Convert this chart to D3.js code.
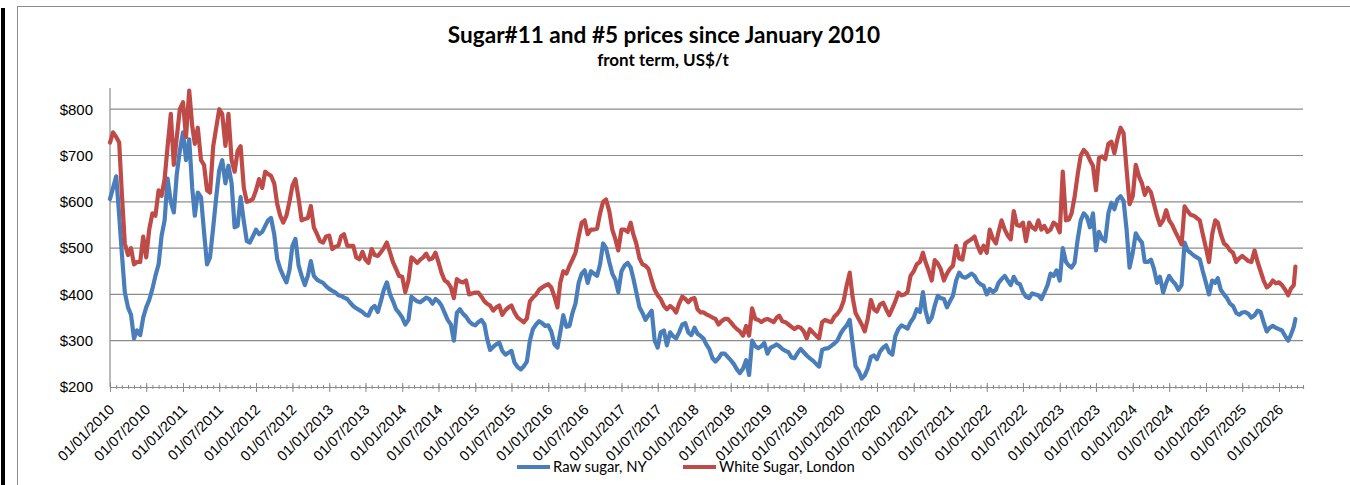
<!DOCTYPE html>
<html>
<head>
<meta charset="utf-8">
<script src="https://cdnjs.cloudflare.com/ajax/libs/d3/7.8.5/d3.min.js"></script>
<style>
  body { margin: 0; background: #fff; }
  svg { display: block; font-family: Lato, "Open Sans", sans-serif; }
</style>
</head>
<body>
<svg id="chart" width="1350" height="485"></svg>
<script>
// sample dates (1st and 16th of each month)
var dates = [
  "2010-01-01","2010-01-16","2010-02-01","2010-02-16","2010-03-01","2010-03-16","2010-04-01","2010-04-16","2010-05-01","2010-05-16","2010-06-01","2010-06-16","2010-07-01","2010-07-16","2010-08-01","2010-08-16","2010-09-01","2010-09-16","2010-10-01","2010-10-16","2010-11-01","2010-11-16","2010-12-01","2010-12-16",
  "2011-01-01","2011-01-16","2011-02-01","2011-02-16","2011-03-01","2011-03-16","2011-04-01","2011-04-16","2011-05-01","2011-05-16","2011-06-01","2011-06-16","2011-07-01","2011-07-16","2011-08-01","2011-08-16","2011-09-01","2011-09-16","2011-10-01","2011-10-16","2011-11-01","2011-11-16","2011-12-01","2011-12-16",
  "2012-01-01","2012-01-16","2012-02-01","2012-02-16","2012-03-01","2012-03-16","2012-04-01","2012-04-16","2012-05-01","2012-05-16","2012-06-01","2012-06-16","2012-07-01","2012-07-16","2012-08-01","2012-08-16","2012-09-01","2012-09-16","2012-10-01","2012-10-16","2012-11-01","2012-11-16","2012-12-01","2012-12-16",
  "2013-01-01","2013-01-16","2013-02-01","2013-02-16","2013-03-01","2013-03-16","2013-04-01","2013-04-16","2013-05-01","2013-05-16","2013-06-01","2013-06-16","2013-07-01","2013-07-16","2013-08-01","2013-08-16","2013-09-01","2013-09-16","2013-10-01","2013-10-16","2013-11-01","2013-11-16","2013-12-01","2013-12-16",
  "2014-01-01","2014-01-16","2014-02-01","2014-02-16","2014-03-01","2014-03-16","2014-04-01","2014-04-16","2014-05-01","2014-05-16","2014-06-01","2014-06-16","2014-07-01","2014-07-16","2014-08-01","2014-08-16","2014-09-01","2014-09-16","2014-10-01","2014-10-16","2014-11-01","2014-11-16","2014-12-01","2014-12-16",
  "2015-01-01","2015-01-16","2015-02-01","2015-02-16","2015-03-01","2015-03-16","2015-04-01","2015-04-16","2015-05-01","2015-05-16","2015-06-01","2015-06-16","2015-07-01","2015-07-16","2015-08-01","2015-08-16","2015-09-01","2015-09-16","2015-10-01","2015-10-16","2015-11-01","2015-11-16","2015-12-01","2015-12-16",
  "2016-01-01","2016-01-16","2016-02-01","2016-02-16","2016-03-01","2016-03-16","2016-04-01","2016-04-16","2016-05-01","2016-05-16","2016-06-01","2016-06-16","2016-07-01","2016-07-16","2016-08-01","2016-08-16","2016-09-01","2016-09-16","2016-10-01","2016-10-16","2016-11-01","2016-11-16","2016-12-01","2016-12-16",
  "2017-01-01","2017-01-16","2017-02-01","2017-02-16","2017-03-01","2017-03-16","2017-04-01","2017-04-16","2017-05-01","2017-05-16","2017-06-01","2017-06-16","2017-07-01","2017-07-16","2017-08-01","2017-08-16","2017-09-01","2017-09-16","2017-10-01","2017-10-16","2017-11-01","2017-11-16","2017-12-01","2017-12-16",
  "2018-01-01","2018-01-16","2018-02-01","2018-02-16","2018-03-01","2018-03-16","2018-04-01","2018-04-16","2018-05-01","2018-05-16","2018-06-01","2018-06-16","2018-07-01","2018-07-16","2018-08-01","2018-08-16","2018-09-01","2018-09-16","2018-10-01","2018-10-16","2018-11-01","2018-11-16","2018-12-01","2018-12-16",
  "2019-01-01","2019-01-16","2019-02-01","2019-02-16","2019-03-01","2019-03-16","2019-04-01","2019-04-16","2019-05-01","2019-05-16","2019-06-01","2019-06-16","2019-07-01","2019-07-16","2019-08-01","2019-08-16","2019-09-01","2019-09-16","2019-10-01","2019-10-16","2019-11-01","2019-11-16","2019-12-01","2019-12-16",
  "2020-01-01","2020-01-16","2020-02-01","2020-02-16","2020-03-01","2020-03-16","2020-04-01","2020-04-16","2020-05-01","2020-05-16","2020-06-01","2020-06-16","2020-07-01","2020-07-16","2020-08-01","2020-08-16","2020-09-01","2020-09-16","2020-10-01","2020-10-16","2020-11-01","2020-11-16","2020-12-01","2020-12-16",
  "2021-01-01","2021-01-16","2021-02-01","2021-02-16","2021-03-01","2021-03-16","2021-04-01","2021-04-16","2021-05-01","2021-05-16","2021-06-01","2021-06-16","2021-07-01","2021-07-16","2021-08-01","2021-08-16","2021-09-01","2021-09-16","2021-10-01","2021-10-16","2021-11-01","2021-11-16","2021-12-01","2021-12-16",
  "2022-01-01","2022-01-16","2022-02-01","2022-02-16","2022-03-01","2022-03-16","2022-04-01","2022-04-16","2022-05-01","2022-05-16","2022-06-01","2022-06-16","2022-07-01","2022-07-16","2022-08-01","2022-08-16","2022-09-01","2022-09-16","2022-10-01","2022-10-16","2022-11-01","2022-11-16","2022-12-01","2022-12-16",
  "2023-01-01","2023-01-16","2023-02-01","2023-02-16","2023-03-01","2023-03-16","2023-04-01","2023-04-16","2023-05-01","2023-05-16","2023-06-01","2023-06-16","2023-07-01","2023-07-16","2023-08-01","2023-08-16","2023-09-01","2023-09-16","2023-10-01","2023-10-16","2023-11-01","2023-11-16","2023-12-01","2023-12-16",
  "2024-01-01","2024-01-16","2024-02-01","2024-02-16","2024-03-01","2024-03-16","2024-04-01","2024-04-16","2024-05-01","2024-05-16","2024-06-01","2024-06-16","2024-07-01","2024-07-16","2024-08-01","2024-08-16","2024-09-01","2024-09-16","2024-10-01","2024-10-16","2024-11-01","2024-11-16","2024-12-01","2024-12-16",
  "2025-01-01","2025-01-16","2025-02-01","2025-02-16","2025-03-01","2025-03-16","2025-04-01","2025-04-16","2025-05-01","2025-05-16","2025-06-01","2025-06-16","2025-07-01","2025-07-16","2025-08-01","2025-08-16","2025-09-01","2025-09-16","2025-10-01","2025-10-16","2025-11-01","2025-11-16","2025-12-01","2025-12-16",
  "2026-01-01","2026-01-16","2026-02-01","2026-02-16","2026-03-01","2026-03-16","2026-03-24"
];

// Raw sugar, NY (#11), US$/t
var rawSugar = [
  606,630,655,570,490,405,372,356,305,322,312,350,372,388,412,440,465,527,560,650,600,577,660,710,
  750,690,735,630,570,620,610,535,465,480,545,610,668,690,640,678,640,545,548,610,558,515,512,525,
  540,530,535,548,560,565,530,476,455,440,426,452,505,520,462,440,420,440,472,440,432,428,425,418,
  412,408,404,398,397,393,390,382,375,370,366,362,356,354,370,375,362,385,410,426,400,385,368,360,
  350,335,345,395,390,385,383,388,393,390,380,390,385,376,360,345,335,300,360,368,358,352,342,336,
  333,340,345,335,305,280,287,292,296,278,270,274,278,253,243,238,245,255,300,325,335,342,338,332,
  333,320,292,285,318,355,330,332,360,380,425,445,452,425,450,445,440,465,510,500,470,445,432,405,
  450,462,468,458,435,405,372,360,345,355,365,300,285,318,322,290,318,310,305,318,335,338,318,312,
  328,315,310,304,292,282,262,255,262,272,272,265,258,250,238,230,240,258,226,300,288,284,288,295,
  272,285,288,292,288,282,278,275,264,262,274,282,275,268,262,257,250,244,280,283,284,289,294,300,
  315,325,333,345,295,245,234,218,225,240,265,268,260,276,285,290,275,270,310,325,333,330,326,340,
  350,368,362,405,365,340,350,376,397,392,390,372,385,397,430,447,438,436,440,445,440,428,422,419,
  400,412,405,410,425,433,440,430,420,438,425,422,405,395,392,402,400,398,390,404,420,445,440,452,
  430,500,470,462,458,468,520,560,575,568,545,575,495,535,520,515,575,598,584,605,612,602,540,458,
  490,532,520,512,470,470,475,455,425,438,404,425,440,430,422,410,420,512,495,490,484,480,476,450,
  425,400,430,425,435,410,400,392,380,375,360,356,361,362,358,350,355,365,362,340,320,328,332,328,
  325,322,310,300,312,330,347
];

// White Sugar, London (#5), US$/t
var whiteSugar = [
  728,750,740,728,620,510,485,500,465,470,470,525,480,540,575,570,625,613,649,720,790,680,740,800,
  815,740,840,764,725,760,690,680,625,620,720,760,800,790,721,790,690,665,710,720,630,600,602,606,
  625,649,630,665,660,656,640,595,570,555,570,600,635,649,606,560,563,565,591,545,530,515,512,525,
  527,498,503,505,525,530,505,505,505,480,476,492,475,468,498,485,483,491,500,512,490,469,455,440,
  438,405,430,480,475,468,475,480,488,475,478,490,470,447,430,426,415,392,433,428,426,430,400,402,
  404,404,395,385,380,376,365,372,376,356,366,372,376,361,350,345,340,348,385,393,400,410,415,419,
  422,415,395,372,425,450,445,462,475,490,525,555,560,530,540,540,542,575,600,605,580,540,520,495,
  540,540,535,555,530,510,478,465,462,455,430,410,398,390,375,368,375,370,361,380,395,390,383,390,
  392,368,361,361,357,354,350,347,335,342,347,347,340,332,325,320,311,332,311,370,347,345,340,345,
  347,344,340,350,354,342,340,335,330,325,330,328,320,305,325,318,311,305,340,345,342,340,352,358,
  368,385,420,447,395,360,347,335,320,347,388,368,363,378,382,368,355,370,385,404,398,400,405,440,
  450,465,470,490,470,452,430,474,467,455,430,445,455,462,505,478,475,510,515,519,525,505,490,505,
  490,540,520,510,535,560,540,527,519,580,550,548,555,515,555,545,540,560,540,548,535,540,555,550,
  534,665,560,562,575,610,660,700,712,705,690,678,625,695,698,692,725,730,705,735,760,748,670,595,
  612,680,655,640,615,630,620,595,570,550,560,582,560,550,535,522,508,590,580,572,570,565,560,530,
  500,470,530,560,555,530,510,505,495,490,470,478,483,478,472,470,495,470,450,430,415,420,430,424,
  426,420,410,398,412,420,460
];

var seriesNames = ["Raw sugar, NY", "White Sugar, London"];
var seriesColors = ["#4a7ebb", "#be4b48"];
var yTicks = [200, 300, 400, 500, 600, 700, 800];

var svg = d3.select("svg"),
    width = +svg.attr("width"),
    height = +svg.attr("height");

var parseDate = d3.timeParse("%Y-%m-%d");

// plot area (window.top is read-only, so no "top" here)
var plotL = 110, plotR = 1303, plotT = 87, plotB = 387;

var x = d3.scaleTime()
    .domain([parseDate("2010-01-01"), parseDate("2026-05-01")])
    .range([plotL, plotR]);

var y = d3.scaleLinear()
    .domain([200, 848])
    .range([plotB, plotT]);

// outer frame + black bar on the left
svg.append("rect")
    .attr("x", 17.5).attr("y", 6.5)
    .attr("width", 1400).attr("height", 600)
    .attr("fill", "#fff")
    .attr("stroke", "#8c8c8c");
svg.append("rect")
    .attr("x", 1).attr("y", 8)
    .attr("width", 4).attr("height", height - 8)
    .attr("fill", "#000");

// title
svg.append("text")
    .attr("x", 664).attr("y", 43)
    .attr("text-anchor", "middle")
    .style("font-size", "22.6px").style("font-weight", "bold")
    .text("Sugar#11 and #5 prices since January 2010");
svg.append("text")
    .attr("x", 663).attr("y", 66)
    .attr("text-anchor", "middle")
    .style("font-size", "17px").style("font-weight", "bold")
    .text("front term, US$/t");

// gridlines
svg.append("g")
    .selectAll("line")
    .data(yTicks.slice(1))
    .enter().append("line")
    .attr("x1", plotL).attr("x2", plotR)
    .attr("y1", function(d) { return y(d); })
    .attr("y2", function(d) { return y(d); })
    .attr("stroke", "#8c8c8c")
    .attr("stroke-width", 1.2);

// y axis
var yAxis = svg.append("g")
    .attr("transform", "translate(" + plotL + ",0)")
    .call(d3.axisLeft(y).tickValues(yTicks).tickSize(0).tickPadding(17)
        .tickFormat(function(d) { return "$" + d; }));
yAxis.select(".domain").remove();
yAxis.selectAll("text").style("font-size", "15px").attr("fill", "#000");
svg.append("line")
    .attr("x1", plotL).attr("x2", plotL)
    .attr("y1", plotT + 1).attr("y2", plotB)
    .attr("stroke", "#8c8c8c").attr("stroke-width", 1.2);

// x axis: monthly minor ticks, half-year labelled ticks
var minor = svg.append("g")
    .attr("transform", "translate(0," + plotB + ")")
    .call(d3.axisBottom(x).ticks(d3.timeMonth.every(1)).tickSize(2).tickFormat(""));
minor.select(".domain").attr("stroke", "#8c8c8c").attr("stroke-width", 1.2);
minor.selectAll(".tick line").attr("y1", -2).attr("stroke", "#8c8c8c");

var major = svg.append("g")
    .attr("transform", "translate(0," + plotB + ")")
    .call(d3.axisBottom(x).ticks(d3.timeMonth.every(6)).tickSize(5)
        .tickFormat(d3.timeFormat("%d/%m/%Y")));
major.select(".domain").remove();
major.selectAll(".tick line").attr("y1", -4).attr("stroke", "#8c8c8c");
major.selectAll(".tick text")
    .attr("fill", "#000")
    .style("font-size", "14.5px")
    .attr("text-anchor", "end")
    .attr("x", 0).attr("y", 0).attr("dy", "0.35em")
    .attr("transform", "translate(1,20) rotate(-45)");

// lines
var series = [rawSugar, whiteSugar].map(function(vals) {
    return vals.map(function(v, i) { return { date: parseDate(dates[i]), value: v }; });
});

var line = d3.line()
    .x(function(d) { return x(d.date); })
    .y(function(d) { return y(d.value); });

svg.append("g")
    .selectAll("path")
    .data(series)
    .enter().append("path")
    .attr("d", line)
    .attr("fill", "none")
    .attr("stroke", function(d, i) { return seriesColors[i]; })
    .attr("stroke-width", 4.2)
    .attr("stroke-linejoin", "round")
    .attr("stroke-linecap", "round");

// legend
var legendX = [517, 683];
var legend = svg.append("g")
    .selectAll("g")
    .data(seriesNames)
    .enter().append("g")
    .attr("transform", function(d, i) { return "translate(" + legendX[i] + ",467)"; });
legend.append("line")
    .attr("x1", 0).attr("x2", 33)
    .attr("stroke", function(d, i) { return seriesColors[i]; })
    .attr("stroke-width", 4);
legend.append("text")
    .attr("x", 36).attr("dy", "0.35em")
    .style("font-size", "14.8px")
    .text(function(d) { return d; });
</script>
</body>
</html>
